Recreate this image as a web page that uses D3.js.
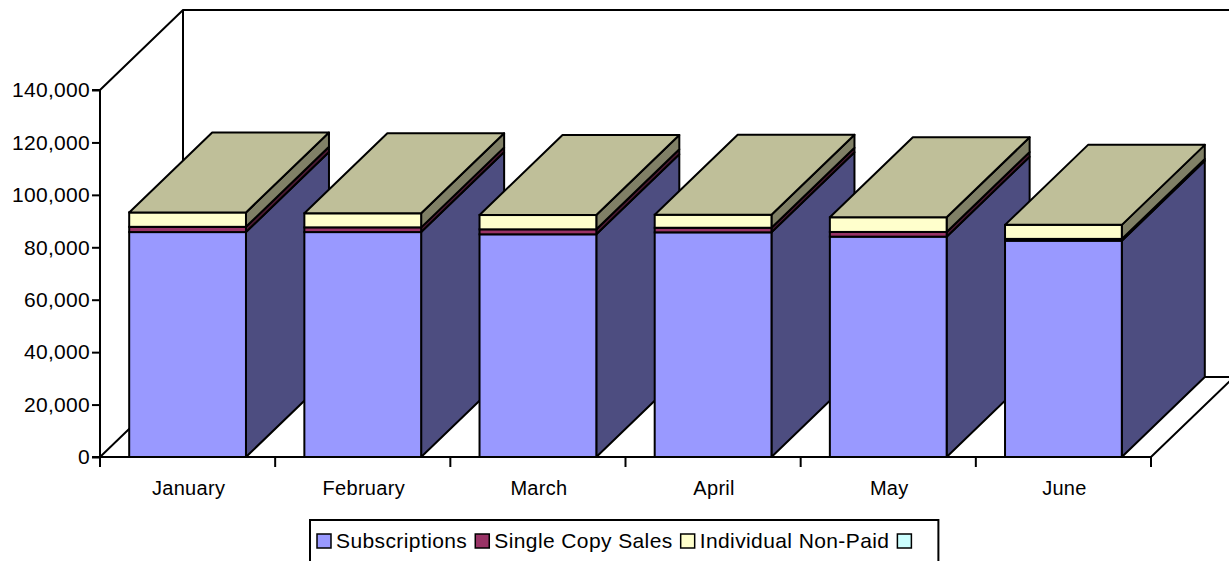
<!DOCTYPE html>
<html>
<head>
<meta charset="utf-8">
<script src="https://cdn.jsdelivr.net/npm/d3@7"></script>
<style>
  html, body { margin: 0; padding: 0; background: #fff; }
  svg { display: block; font-family: "Liberation Sans", Arial, sans-serif; }
</style>
</head>
<body>
<svg id="chart" width="1229" height="561"></svg>
<script>
const months = ["January", "February", "March", "April", "May", "June"];
const subscriptions = [85800, 85800, 84950, 85700, 84050, 82500];
const singleCopySales = [2000, 1800, 1900, 1750, 1800, 700];
const individualNonPaid = [5500, 5350, 5450, 4950, 5600, 5350];
const fourthSeries = [0, 0, 0, 0, 0, 0];
const seriesNames = ["Subscriptions", "Single Copy Sales", "Individual Non-Paid", ""];
const yTicks = [0, 20000, 40000, 60000, 80000, 100000, 120000, 140000];

const frontColors = ["#9999FF", "#993366", "#FFFFCC", "#CCFFFF"];
const sideColors  = ["#4D4D80", "#4D1A33", "#808066", "#668080"];
const topColors   = ["#7373BF", "#73264D", "#BFBF99", "#99BFBF"];

const svg = d3.select("#chart");
const x0 = 100, x1 = 1151, yBase = 457, yTop = 90;
const DX = 83, DY = 80;

const x = d3.scaleBand().domain(months).range([x0, x1]).paddingInner(1/3).paddingOuter(1/6);
const y = d3.scaleLinear().domain([0, 140000]).range([yBase, yTop]);

const seriesData = [subscriptions, singleCopySales, individualNonPaid, fourthSeries];

// back wall lines
const yMaxBack = y(140000) - DY;
svg.append("path")
  .attr("d", `M${x0},${y(140000)} L${x0 + DX},${yMaxBack} L1240,${yMaxBack} M${x0 + DX},${yMaxBack} L${x0 + DX},${yBase - DY}`)
  .attr("fill", "none").attr("stroke", "#000").attr("stroke-width", 2);

// floor
svg.append("path")
  .attr("d", `M${x0},${yBase} L${x1},${yBase} L${x1 + DX},${yBase - DY} L${x0 + DX},${yBase - DY} Z`)
  .attr("fill", "#fff").attr("stroke", "#000").attr("stroke-width", 2);

// bars
months.forEach((m, i) => {
  const g = svg.append("g");
  const bx = x(m), bw = x.bandwidth();
  let cum = 0;
  const segs = [];
  seriesData.forEach((arr, s) => {
    const v = arr[i];
    if (v > 0) segs.push({ s, lo: cum, hi: cum + v });
    cum += v;
  });
  segs.forEach(seg => {
    const ya = y(seg.lo), yb = y(seg.hi);
    g.append("path")
      .attr("d", `M${bx + bw},${ya} L${bx + bw + DX},${ya - DY} L${bx + bw + DX},${yb - DY} L${bx + bw},${yb} Z`)
      .attr("fill", sideColors[seg.s]).attr("stroke", "#000").attr("stroke-width", 2).attr("stroke-linejoin", "round");
  });
  segs.forEach(seg => {
    const ya = y(seg.lo), yb = y(seg.hi);
    g.append("rect")
      .attr("x", bx).attr("y", yb).attr("width", bw).attr("height", ya - yb)
      .attr("fill", frontColors[seg.s]).attr("stroke", "#000").attr("stroke-width", 2);
  });
  const top = segs[segs.length - 1];
  const yt = y(top.hi);
  g.append("path")
    .attr("d", `M${bx},${yt} L${bx + DX},${yt - DY} L${bx + bw + DX},${yt - DY} L${bx + bw},${yt} Z`)
    .attr("fill", topColors[top.s]).attr("stroke", "#000").attr("stroke-width", 2).attr("stroke-linejoin", "round");
});

// y axis
const yAxis = svg.append("g")
  .attr("transform", `translate(${x0},0)`)
  .call(d3.axisLeft(y).tickValues(yTicks).tickFormat(d3.format(",")).tickSize(8).tickPadding(2));
yAxis.select(".domain").attr("stroke", "#000").attr("stroke-width", 2).attr("d", `M-8,${yTop}H0V${yBase}H-8`);
yAxis.selectAll(".tick line").attr("stroke", "#000").attr("stroke-width", 2);
yAxis.selectAll(".tick text").attr("font-size", 21).attr("fill", "#000").attr("letter-spacing", 0.3)
  .attr("font-family", "'Liberation Sans', Arial, sans-serif");

// x axis ticks (category boundaries)
const step = x.step();
const bounds = d3.range(months.length + 1).map(k => x0 + k * step);
svg.selectAll(".xtick").data(bounds).enter().append("line")
  .attr("x1", d => d).attr("x2", d => d).attr("y1", yBase).attr("y2", yBase + 10)
  .attr("stroke", "#000").attr("stroke-width", 2);
svg.append("line").attr("x1", x0).attr("x2", x1).attr("y1", yBase).attr("y2", yBase)
  .attr("stroke", "#000").attr("stroke-width", 2);
svg.selectAll(".xlabel").data(months).enter().append("text")
  .attr("x", d => x(d) + x.bandwidth() / 2 + 1).attr("y", 495)
  .attr("text-anchor", "middle").attr("font-size", 20).attr("letter-spacing", 0.3).attr("fill", "#000")
  .text(d => d);

// legend
const lg = svg.append("g");
const lx = 310, ly = 520;
const items = lg.append("g");
let cx = lx + 7;
seriesNames.forEach((name, s) => {
  items.append("rect").attr("x", cx).attr("y", ly + 14).attr("width", 14).attr("height", 14)
    .attr("fill", frontColors[s]).attr("stroke", "#000").attr("stroke-width", 1.5);
  cx += 19;
  const t = items.append("text").attr("x", cx).attr("y", ly + 28).attr("font-size", 21)
    .attr("letter-spacing", 0.4).attr("fill", "#000").text(name);
  const w = name ? t.node().getComputedTextLength() : 0;
  cx += w + 8;
});
lg.insert("rect", ":first-child").attr("x", lx).attr("y", ly).attr("width", cx - lx + 14).attr("height", 45)
  .attr("fill", "#fff").attr("stroke", "#000").attr("stroke-width", 2);
</script>
</body>
</html>
